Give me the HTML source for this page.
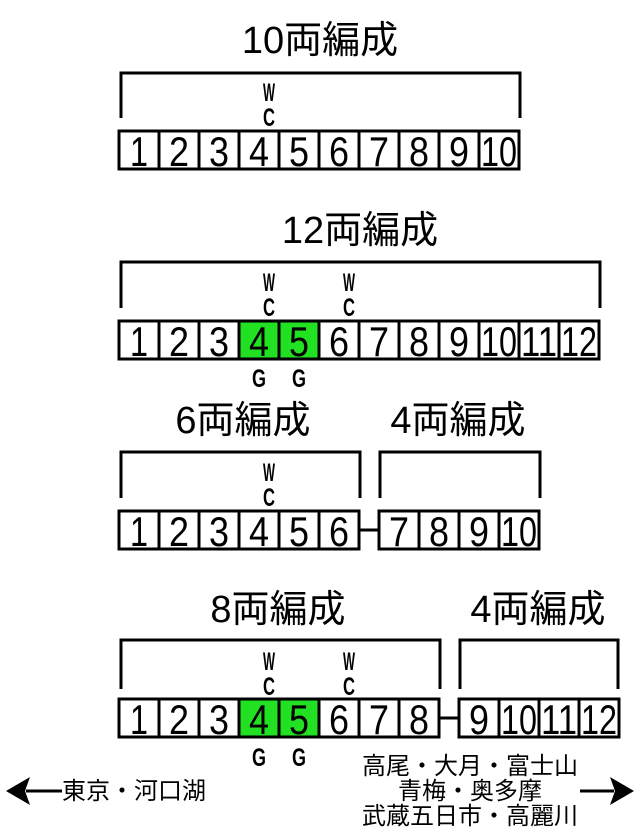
<!DOCTYPE html>
<html><head><meta charset="utf-8"><style>
html,body{margin:0;padding:0;background:#fff;}
svg{display:block}
.n{font-family:"Liberation Sans",sans-serif;font-size:42px;text-anchor:middle}
.t{font-family:"Liberation Sans","Noto Sans CJK JP",sans-serif;font-size:38px;text-anchor:middle}
.w{font-family:"Liberation Sans",sans-serif;font-weight:bold;font-size:25px;text-anchor:middle}
.j{font-family:"Liberation Sans","Noto Sans CJK JP",sans-serif;font-size:24px}
</style></head><body>
<svg width="640" height="830" viewBox="0 0 640 830" xmlns="http://www.w3.org/2000/svg">
<g fill="none" stroke="#000" stroke-width="3">
<path d="M121 118V73H520V118"/>
<path d="M121 308V262H600V308"/>
<path d="M121 498V452H360V498M380 498V452H540V498"/>
<path d="M121 689V640H440V689M460 689V640H618V689"/>
</g>
<text class="t" x="320" y="53">10両編成</text>
<text class="t" x="360" y="243">12両編成</text>
<text class="t" x="243" y="433">6両編成</text>
<text class="t" x="458" y="433">4両編成</text>
<text class="t" x="278" y="622">8両編成</text>
<text class="t" x="538" y="622">4両編成</text>
<g class="w">
<text x="269" y="101" textLength="12" lengthAdjust="spacingAndGlyphs">W</text><text x="269" y="126" textLength="12" lengthAdjust="spacingAndGlyphs">C</text>
<text x="269" y="291" textLength="12" lengthAdjust="spacingAndGlyphs">W</text><text x="269" y="316" textLength="12" lengthAdjust="spacingAndGlyphs">C</text>
<text x="349" y="291" textLength="12" lengthAdjust="spacingAndGlyphs">W</text><text x="349" y="316" textLength="12" lengthAdjust="spacingAndGlyphs">C</text>
<text x="269" y="481" textLength="12" lengthAdjust="spacingAndGlyphs">W</text><text x="269" y="506" textLength="12" lengthAdjust="spacingAndGlyphs">C</text>
<text x="269" y="670" textLength="12" lengthAdjust="spacingAndGlyphs">W</text><text x="269" y="695" textLength="12" lengthAdjust="spacingAndGlyphs">C</text>
<text x="349" y="670" textLength="12" lengthAdjust="spacingAndGlyphs">W</text><text x="349" y="695" textLength="12" lengthAdjust="spacingAndGlyphs">C</text>
<text x="259" y="387" textLength="14" lengthAdjust="spacingAndGlyphs">G</text><text x="299" y="387" textLength="14" lengthAdjust="spacingAndGlyphs">G</text>
<text x="259" y="766" textLength="14" lengthAdjust="spacingAndGlyphs">G</text><text x="299" y="766" textLength="14" lengthAdjust="spacingAndGlyphs">G</text>
</g>
<g fill="#fff" stroke="#000" stroke-width="3">
<rect x="119" y="131" width="400" height="38"/>
<rect x="119" y="321" width="480" height="38"/>
<rect x="239" y="321" width="80" height="38" fill="#22e022"/>
<rect x="119" y="511" width="240" height="38"/>
<rect x="379" y="511" width="160" height="38"/>
<rect x="119" y="699" width="320" height="38"/>
<rect x="239" y="699" width="80" height="38" fill="#22e022"/>
<rect x="459" y="699" width="160" height="38"/>
<path d="M359 530H379M439 718H459"/>
<path d="M159 131v38M199 131v38M239 131v38M279 131v38M319 131v38M359 131v38M399 131v38M439 131v38M479 131v38"/>
<path d="M159 321v38M199 321v38M239 321v38M279 321v38M319 321v38M359 321v38M399 321v38M439 321v38M479 321v38M519 321v38M559 321v38"/>
<path d="M159 511v38M199 511v38M239 511v38M279 511v38M319 511v38M419 511v38M459 511v38M499 511v38"/>
<path d="M159 699v38M199 699v38M239 699v38M279 699v38M319 699v38M359 699v38M399 699v38M499 699v38M539 699v38M579 699v38"/>
</g>
<g class="n">
<text x="139" y="166" textLength="18" lengthAdjust="spacingAndGlyphs">1</text>
<text x="179" y="166" textLength="20" lengthAdjust="spacingAndGlyphs">2</text>
<text x="219" y="166" textLength="20" lengthAdjust="spacingAndGlyphs">3</text>
<text x="259" y="166" textLength="20" lengthAdjust="spacingAndGlyphs">4</text>
<text x="299" y="166" textLength="20" lengthAdjust="spacingAndGlyphs">5</text>
<text x="339" y="166" textLength="20" lengthAdjust="spacingAndGlyphs">6</text>
<text x="379" y="166" textLength="20" lengthAdjust="spacingAndGlyphs">7</text>
<text x="419" y="166" textLength="20" lengthAdjust="spacingAndGlyphs">8</text>
<text x="459" y="166" textLength="20" lengthAdjust="spacingAndGlyphs">9</text>
<text x="499" y="166" textLength="36" lengthAdjust="spacingAndGlyphs">10</text>
<text x="139" y="356" textLength="18" lengthAdjust="spacingAndGlyphs">1</text>
<text x="179" y="356" textLength="20" lengthAdjust="spacingAndGlyphs">2</text>
<text x="219" y="356" textLength="20" lengthAdjust="spacingAndGlyphs">3</text>
<text x="259" y="356" textLength="20" lengthAdjust="spacingAndGlyphs">4</text>
<text x="299" y="356" textLength="20" lengthAdjust="spacingAndGlyphs">5</text>
<text x="339" y="356" textLength="20" lengthAdjust="spacingAndGlyphs">6</text>
<text x="379" y="356" textLength="20" lengthAdjust="spacingAndGlyphs">7</text>
<text x="419" y="356" textLength="20" lengthAdjust="spacingAndGlyphs">8</text>
<text x="459" y="356" textLength="20" lengthAdjust="spacingAndGlyphs">9</text>
<text x="499" y="356" textLength="36" lengthAdjust="spacingAndGlyphs">10</text>
<text x="539" y="356" textLength="36" lengthAdjust="spacingAndGlyphs">11</text>
<text x="579" y="356" textLength="36" lengthAdjust="spacingAndGlyphs">12</text>
<text x="139" y="546" textLength="18" lengthAdjust="spacingAndGlyphs">1</text>
<text x="179" y="546" textLength="20" lengthAdjust="spacingAndGlyphs">2</text>
<text x="219" y="546" textLength="20" lengthAdjust="spacingAndGlyphs">3</text>
<text x="259" y="546" textLength="20" lengthAdjust="spacingAndGlyphs">4</text>
<text x="299" y="546" textLength="20" lengthAdjust="spacingAndGlyphs">5</text>
<text x="339" y="546" textLength="20" lengthAdjust="spacingAndGlyphs">6</text>
<text x="399" y="546" textLength="20" lengthAdjust="spacingAndGlyphs">7</text>
<text x="439" y="546" textLength="20" lengthAdjust="spacingAndGlyphs">8</text>
<text x="479" y="546" textLength="20" lengthAdjust="spacingAndGlyphs">9</text>
<text x="519" y="546" textLength="36" lengthAdjust="spacingAndGlyphs">10</text>
<text x="139" y="734" textLength="18" lengthAdjust="spacingAndGlyphs">1</text>
<text x="179" y="734" textLength="20" lengthAdjust="spacingAndGlyphs">2</text>
<text x="219" y="734" textLength="20" lengthAdjust="spacingAndGlyphs">3</text>
<text x="259" y="734" textLength="20" lengthAdjust="spacingAndGlyphs">4</text>
<text x="299" y="734" textLength="20" lengthAdjust="spacingAndGlyphs">5</text>
<text x="339" y="734" textLength="20" lengthAdjust="spacingAndGlyphs">6</text>
<text x="379" y="734" textLength="20" lengthAdjust="spacingAndGlyphs">7</text>
<text x="419" y="734" textLength="20" lengthAdjust="spacingAndGlyphs">8</text>
<text x="479" y="734" textLength="20" lengthAdjust="spacingAndGlyphs">9</text>
<text x="519" y="734" textLength="36" lengthAdjust="spacingAndGlyphs">10</text>
<text x="559" y="734" textLength="36" lengthAdjust="spacingAndGlyphs">11</text>
<text x="599" y="734" textLength="36" lengthAdjust="spacingAndGlyphs">12</text>
</g>
<path d="M26 791H62" stroke="#000" stroke-width="3"/>
<path d="M6 791L30 777L25 791L30 805Z" fill="#000"/>
<path d="M580 791H614" stroke="#000" stroke-width="3"/>
<path d="M634 791L610 777L615 791L610 805Z" fill="#000"/>
<text class="j" x="62" y="799">東京・河口湖</text>
<text class="j" x="470" y="774" text-anchor="middle">高尾・大月・富士山</text>
<text class="j" x="470" y="799" text-anchor="middle">青梅・奥多摩</text>
<text class="j" x="470" y="824" text-anchor="middle">武蔵五日市・高麗川</text>
</svg>
</body></html>
